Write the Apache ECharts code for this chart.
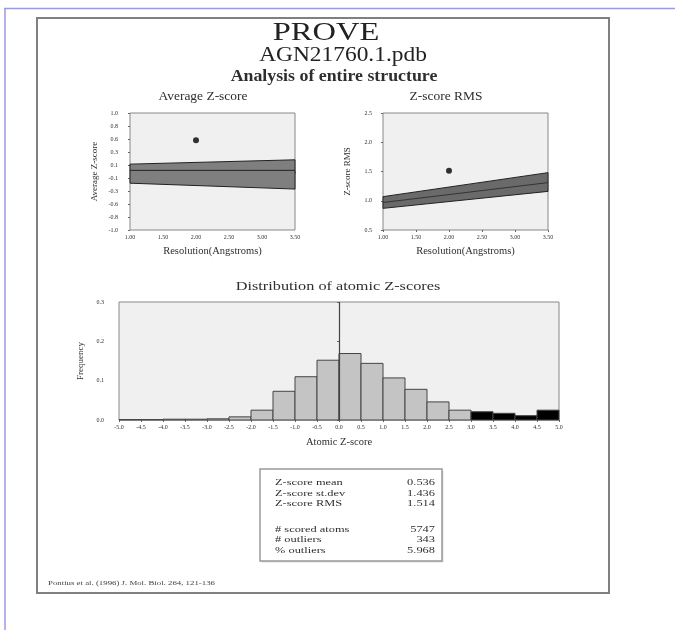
<!DOCTYPE html>
<html>
<head>
<meta charset="utf-8">
<script src="https://cdn.jsdelivr.net/npm/echarts@6/dist/echarts.min.js"></script>
<style>html,body{margin:0;padding:0;background:#fff}#c{width:675px;height:630px}</style>
</head>
<body>
<div id="c"></div>
<script>
// ---- data ----
var resolutionX = [1.0, 3.5];
var avgBandLow = [-0.2, -0.3];
var avgBandHigh = [0.126, 0.2];
var avgMid = [0.02, 0.02];
var avgPoint = [2.0, 0.536];

var rmsBandLow = [0.87, 1.16];
var rmsBandHigh = [1.07, 1.48];
var rmsMid = [0.97, 1.31];
var rmsPoint = [2.0, 1.514];

var binStarts = [-5.0, -4.5, -4.0, -3.5, -3.0, -2.5, -2.0, -1.5, -1.0, -0.5, 0.0, 0.5, 1.0, 1.5, 2.0, 2.5, 3.0, 3.5, 4.0, 4.5];
var binFreq = [0.001, 0.001, 0.002, 0.002, 0.003, 0.008, 0.025, 0.073, 0.110, 0.152, 0.169, 0.144, 0.107, 0.078, 0.046, 0.025, 0.021, 0.017, 0.011, 0.025];
var binWidth = 0.5;

var statLabels = ["Z-score mean", "Z-score st.dev", "Z-score RMS", "# scored atoms", "# outliers", "% outliers"];
var statValues = ["0.536", "1.436", "1.514", "5747", "343", "5.968"];

var FONT = 'Liberation Serif';
var TXT = '#2e2e2e';

function pairs(xs, ys) { return xs.map(function (x, i) { return [x, ys[i]]; }); }

var chart = echarts.init(document.getElementById('c'), null, {renderer: 'canvas'});

function tickLabel(margin) { return {fontFamily: FONT, fontSize: 6, color: TXT, margin: margin}; }
var xName = {fontFamily: FONT, fontSize: 10.5, color: TXT};
var yName = {fontFamily: FONT, fontSize: 9, color: TXT};

function resAxis(gi) {
  return {
    type: 'value', gridIndex: gi, min: 1.0, max: 3.5, interval: 0.5,
    name: 'Resolution(Angstroms)', nameLocation: 'middle', nameGap: 16, nameTextStyle: xName,
    axisLine: {show: false}, axisTick: {show: true, length: 2, lineStyle: {color: '#666'}},
    splitLine: {show: false},
    axisLabel: Object.assign({formatter: function (v) { return v.toFixed(2); }}, tickLabel(4))
  };
}

function bandSeries(gi, xs, lo, hi, fill) {
  return {
    type: 'custom', xAxisIndex: gi, yAxisIndex: gi,
    data: pairs(xs, lo).concat(pairs(xs, hi)),
    encode: {x: 0, y: 1},
    renderItem: function (params, api) {
      if (params.dataIndex !== 0) return null;
      var pts = [];
      var i;
      for (i = 0; i < xs.length; i++) pts.push(api.coord([xs[i], lo[i]]));
      for (i = xs.length - 1; i >= 0; i--) pts.push(api.coord([xs[i], hi[i]]));
      return {type: 'polygon', shape: {points: pts}, style: {fill: fill, stroke: '#222', lineWidth: 1}};
    }
  };
}

function txt(s, x, y, size, opts) {
  opts = opts || {};
  return {
    type: 'text', x: x, y: y, scaleX: opts.sx || 1, scaleY: 1, z: opts.z || 3,
    style: {text: s, font: (opts.bold ? 'bold ' : '') + size + 'px "' + FONT + '"', fill: opts.fill || TXT,
      align: opts.align || 'center', verticalAlign: 'middle'}
  };
}

var statRowY = [483, 493.5, 504, 530, 540, 550.5];
var statGraphics = [];
statLabels.forEach(function (l, i) {
  statGraphics.push(txt(l, 275, statRowY[i], 8, {align: 'left', sx: 1.55}));
  statGraphics.push(txt(statValues[i], 435, statRowY[i], 8, {align: 'right', sx: 1.55}));
});

var option = {
  backgroundColor: '#ffffff',
  animation: false,
  grid: [
    {left: 130, top: 113, width: 165, height: 117, show: true, backgroundColor: '#f0f0f0', borderColor: '#888', borderWidth: 1},
    {left: 383, top: 113, width: 165, height: 117, show: true, backgroundColor: '#f0f0f0', borderColor: '#888', borderWidth: 1},
    {left: 119, top: 302, width: 440, height: 118, show: true, backgroundColor: '#f0f0f0', borderColor: '#888', borderWidth: 1}
  ],
  xAxis: [
    resAxis(0),
    resAxis(1),
    {
      type: 'value', gridIndex: 2, min: -5, max: 5, interval: 0.5,
      name: 'Atomic Z-score', nameLocation: 'middle', nameGap: 17, nameTextStyle: xName,
      axisLine: {show: false}, axisTick: {show: true, length: 2, lineStyle: {color: '#666'}},
      splitLine: {show: false},
      axisLabel: Object.assign({formatter: function (v) { return v.toFixed(1); }}, tickLabel(4))
    }
  ],
  yAxis: [
    {
      type: 'value', gridIndex: 0, min: -1, max: 1, interval: 2 / 9,
      name: 'Average Z-score', nameLocation: 'middle', nameGap: 31, nameTextStyle: yName,
      axisLine: {show: false}, axisTick: {show: true, length: 2, lineStyle: {color: '#666'}},
      splitLine: {show: false},
      axisLabel: Object.assign({formatter: function (v) { return (Math.abs(v) < 1e-9 ? 0 : v).toFixed(1); }}, tickLabel(12))
    },
    {
      type: 'value', gridIndex: 1, min: 0.5, max: 2.5, interval: 0.5,
      name: 'Z-score RMS', nameLocation: 'middle', nameGap: 31, nameTextStyle: yName,
      axisLine: {show: false}, axisTick: {show: true, length: 2, lineStyle: {color: '#666'}},
      splitLine: {show: false},
      axisLabel: Object.assign({formatter: function (v) { return v.toFixed(1); }}, tickLabel(11))
    },
    {
      type: 'value', gridIndex: 2, min: 0, max: 0.3, interval: 0.1,
      name: 'Frequency', nameLocation: 'middle', nameGap: 27, nameTextStyle: yName,
      axisLine: {show: false}, axisTick: {show: true, length: 2, lineStyle: {color: '#666'}},
      splitLine: {show: false},
      axisLabel: Object.assign({formatter: function (v) { return v.toFixed(1); }}, tickLabel(15))
    }
  ],
  series: [
    bandSeries(0, resolutionX, avgBandLow, avgBandHigh, '#7f7f7f'),
    {type: 'line', xAxisIndex: 0, yAxisIndex: 0, data: pairs(resolutionX, avgMid), symbol: 'none', z: 3, lineStyle: {color: '#222', width: 1}},
    {type: 'scatter', xAxisIndex: 0, yAxisIndex: 0, data: [avgPoint], symbolSize: 6, z: 4, itemStyle: {color: '#000'}},
    bandSeries(1, resolutionX, rmsBandLow, rmsBandHigh, '#6a6a6a'),
    {type: 'line', xAxisIndex: 1, yAxisIndex: 1, data: pairs(resolutionX, rmsMid), symbol: 'none', z: 3, lineStyle: {color: '#333', width: 1}},
    {type: 'scatter', xAxisIndex: 1, yAxisIndex: 1, data: [rmsPoint], symbolSize: 6, z: 4, itemStyle: {color: '#000'}},
    {
      type: 'custom', xAxisIndex: 2, yAxisIndex: 2,
      data: binStarts.map(function (s, i) { return [s, s + binWidth, binFreq[i]]; }),
      encode: {x: [0, 1], y: 2},
      renderItem: function (params, api) {
        var p0 = api.coord([api.value(0), 0]);
        var p1 = api.coord([api.value(1), api.value(2)]);
        var outlier = api.value(0) >= 3.0;
        return {
          type: 'rect',
          shape: {x: p0[0], y: p1[1], width: p1[0] - p0[0], height: p0[1] - p1[1]},
          style: {fill: outlier ? '#000' : '#c4c4c4', stroke: '#444', lineWidth: 1}
        };
      }
    },
    {
      type: 'custom', xAxisIndex: 2, yAxisIndex: 2, z: 6, clip: false,
      data: [[0, 0, 0.3]],
      encode: {x: 0, y: [1, 2]},
      renderItem: function (params, api) {
        var a = api.coord([api.value(0), api.value(1)]);
        var b = api.coord([api.value(0), api.value(2)]);
        var x = Math.round(a[0]) + 0.5;
        return {type: 'line', z2: 10, shape: {x1: x, y1: a[1], x2: x, y2: b[1]}, style: {stroke: '#444', lineWidth: 1.2}};
      }
    }
  ],
  graphic: [
    {type: 'line', shape: {x1: 4, y1: 8.5, x2: 675, y2: 8.5}, style: {stroke: '#9a9ae0', lineWidth: 1.5}},
    {type: 'line', shape: {x1: 5, y1: 8, x2: 5, y2: 630}, style: {stroke: '#9a9ae0', lineWidth: 1.5}},
    {type: 'rect', shape: {x: 37, y: 18, width: 572, height: 575}, style: {fill: 'none', stroke: '#808080', lineWidth: 2}, z: -1},
    {type: 'rect', shape: {x: 261.5, y: 470.5, width: 182, height: 92}, style: {fill: '#ddd'}, z: 0},
    {type: 'rect', shape: {x: 260, y: 469, width: 182, height: 92}, style: {fill: '#fff', stroke: '#999', lineWidth: 1.5}, z: 1},
    txt('PROVE', 326, 33, 26, {sx: 1.25, fill: '#222'}),
    txt('AGN21760.1.pdb', 343, 56, 20, {sx: 1.17, fill: '#222'}),
    txt('Analysis of entire structure', 334, 77, 16.5, {sx: 1.08, bold: true}),
    txt('Average Z-score', 203, 97, 12, {sx: 1.12}),
    txt('Z-score RMS', 446, 97, 12, {sx: 1.12}),
    txt('Distribution of atomic Z-scores', 338, 287, 13, {sx: 1.25}),
    txt('Pontius et al. (1996) J. Mol. Biol. 264, 121-136', 48, 584, 5.5, {align: 'left', sx: 1.6, fill: '#444'})
  ].concat(statGraphics)
};
chart.setOption(option);
</script>
</body>
</html>
